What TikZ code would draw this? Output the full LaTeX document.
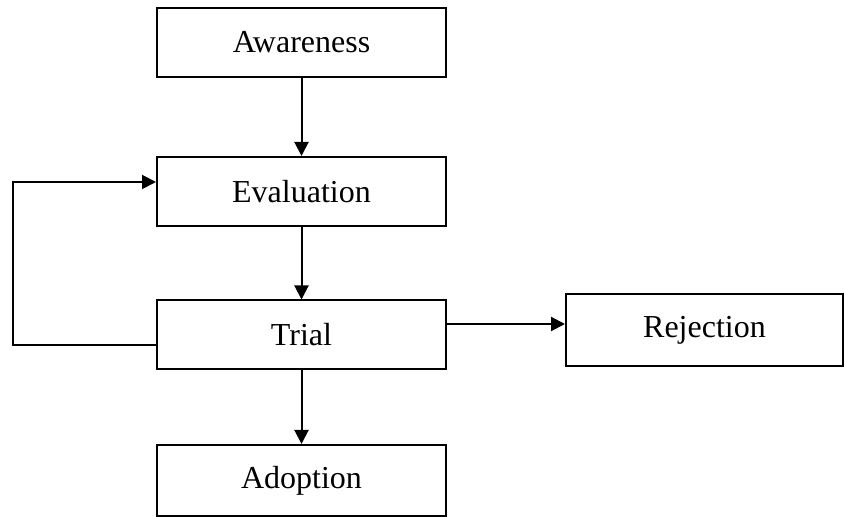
\documentclass[tikz,border=0pt]{standalone}
\usepackage{fontspec}
\setmainfont{Liberation Serif}
\usetikzlibrary{arrows.meta}

\begin{document}
\begin{tikzpicture}[x=0.5pt,y=-0.5pt]
\tikzstyle{stage}=[rectangle,draw,line width=1pt,minimum width=144.5pt,minimum height=34.5pt,inner sep=0pt,font=\fontsize{16}{19}\selectfont]
\tikzstyle{flow}=[-{Triangle[length=7pt,width=7pt]},line width=1pt]
\useasboundingbox (0,0) rectangle (845,517);
\node[stage] (aware) at (301.5,42.5) {Awareness};
\node[stage] (eval) at (301.5,191.5) {Evaluation};
\node[stage] (trial) at (301.5,335) {Trial};
\node[stage,minimum width=138.5pt,minimum height=36pt] (reject) at (704.5,330) {Rejection};
\node[stage,minimum height=35.5pt] (adopt) at (301.5,480.5) {Adoption};
\draw[flow] (aware) -- (eval);
\draw[flow] (eval) -- (trial);
\draw[flow] (trial) -- (adopt);
\draw[flow] ([yshift=5.5pt]trial.east) -- ([yshift=5.5pt]trial.east -| reject.west);
% back from trial to evaluation
\draw[flow] ([yshift=-5pt]trial.west) -- ++(-143.5,0) |- ([yshift=4.75pt]eval.west);
\end{tikzpicture}
\end{document}
